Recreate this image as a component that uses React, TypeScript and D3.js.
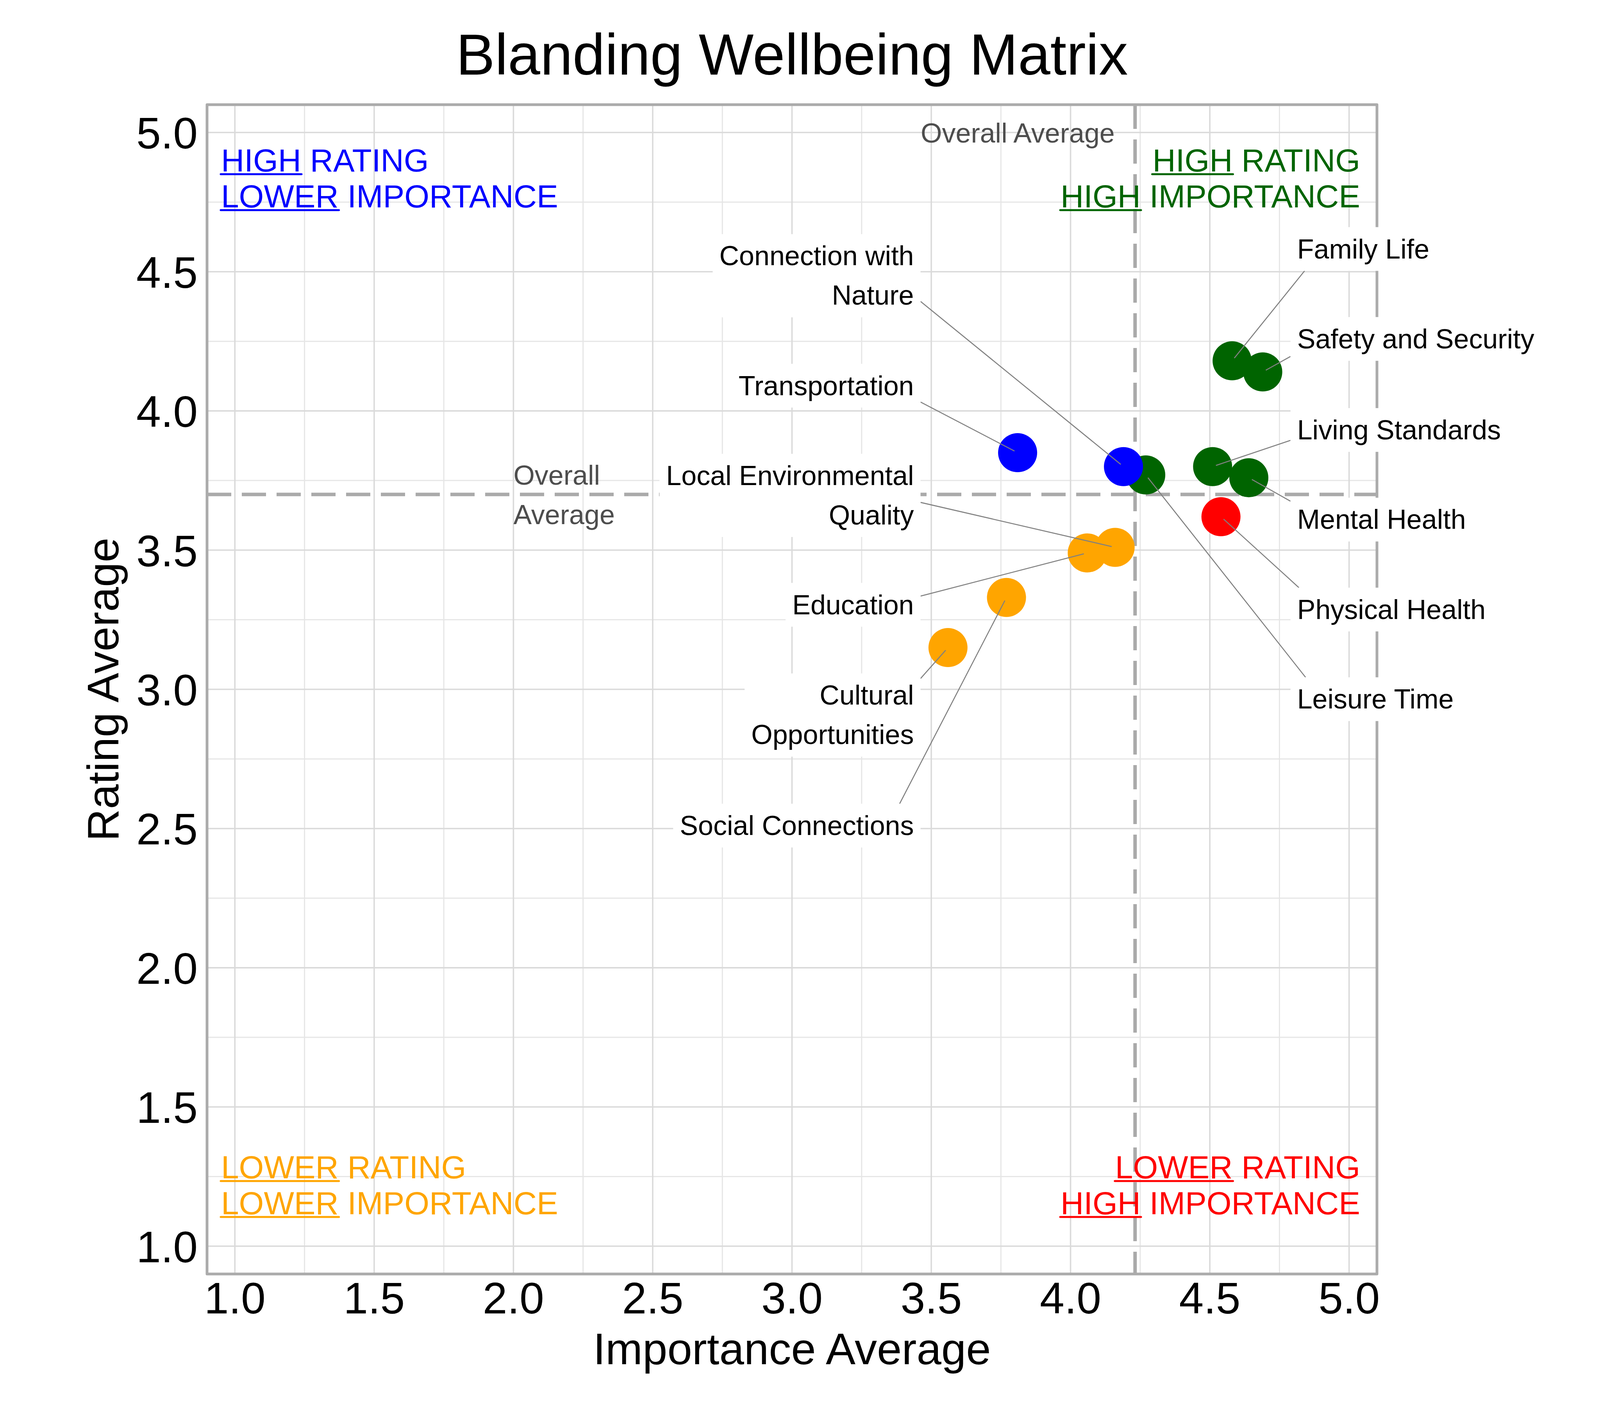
import { useEffect, useRef } from 'react';
import * as d3 from 'd3';

// chart data
const categories = [
  'Family Life',
  'Safety and Security',
  'Living Standards',
  'Mental Health',
  'Physical Health',
  'Leisure Time',
  'Connection with Nature',
  'Transportation',
  'Local Environmental Quality',
  'Education',
  'Cultural Opportunities',
  'Social Connections',
];
const importanceAvg = [4.58, 4.69, 4.51, 4.64, 4.54, 4.27, 4.19, 3.81, 4.16, 4.06, 3.56, 3.77];
const ratingAvg = [4.18, 4.14, 3.8, 3.76, 3.62, 3.77, 3.8, 3.85, 3.51, 3.49, 3.15, 3.33];

const tickValues = [1.0, 1.5, 2.0, 2.5, 3.0, 3.5, 4.0, 4.5, 5.0];

const chartTitle = 'Blanding Wellbeing Matrix';
const xTitle = 'Importance Average';
const yTitle = 'Rating Average';
const avgText = 'Overall Average';

// quadrant captions: [underlined word, rest]
const quadHighLow = [['HIGH', ' RATING'], ['LOWER', ' IMPORTANCE']];
const quadHighHigh = [['HIGH', ' RATING'], ['HIGH', ' IMPORTANCE']];
const quadLowLow = [['LOWER', ' RATING'], ['LOWER', ' IMPORTANCE']];
const quadLowHigh = [['LOWER', ' RATING'], ['HIGH', ' IMPORTANCE']];

// repelled label placement (data units), layout only
const labelSide: Record<string, 'left' | 'right'> = {
  'Family Life': 'right',
  'Safety and Security': 'right',
  'Living Standards': 'right',
  'Mental Health': 'right',
  'Physical Health': 'right',
  'Leisure Time': 'right',
  'Connection with Nature': 'left',
  Transportation: 'left',
  'Local Environmental Quality': 'left',
  Education: 'left',
  'Cultural Opportunities': 'left',
  'Social Connections': 'left',
};
const labelRowY: Record<string, number> = {
  'Family Life': 4.583,
  'Safety and Security': 4.26,
  'Living Standards': 3.933,
  'Mental Health': 3.611,
  'Physical Health': 3.288,
  'Leisure Time': 2.966,
  'Connection with Nature': 4.487,
  Transportation: 4.092,
  'Local Environmental Quality': 3.698,
  Education: 3.305,
  'Cultural Opportunities': 2.909,
  'Social Connections': 2.512,
};
const leftLabelX = 3.4376;
const rightLabelX = 4.8135;

function wrap(s: string, width: number) {
  const out: string[] = [];
  let cur = '';
  s.split(' ').forEach((w) => {
    if (cur && (cur + ' ' + w).length > width) {
      out.push(cur);
      cur = w;
    } else cur = cur ? cur + ' ' + w : w;
  });
  if (cur) out.push(cur);
  return out;
}

export default function App() {
  const ref = useRef<SVGSVGElement | null>(null);

  useEffect(() => {
    document.body.style.margin = '0';
    const W = 4200;
    const H = 3600;
    const font = '"Liberation Sans", Arial, Helvetica, sans-serif';
    const left = 530;
    const right = 3525;
    const top = 268;
    const bottom = 3262;

    const svg = d3.select(ref.current);
    svg.selectAll('*').remove();
    svg.append('rect').attr('width', W).attr('height', H).attr('fill', '#ffffff');

    const x = d3.scaleLinear().domain([0.9, 5.1]).range([left, right]);
    const y = d3.scaleLinear().domain([0.9, 5.1]).range([bottom, top]);

    const avgI = d3.mean(importanceAvg) as number;
    const avgR = d3.mean(ratingAvg) as number;

    // grid
    const minor = d3.range(1.25, 5, 0.5);
    const grid = svg.append('g');
    grid
      .selectAll('line.vm')
      .data(minor)
      .join('line')
      .attr('x1', (d) => x(d))
      .attr('x2', (d) => x(d))
      .attr('y1', top)
      .attr('y2', bottom)
      .attr('stroke', '#e6e6e6')
      .attr('stroke-width', 3);
    grid
      .selectAll('line.hm')
      .data(minor)
      .join('line')
      .attr('y1', (d) => y(d))
      .attr('y2', (d) => y(d))
      .attr('x1', left)
      .attr('x2', right)
      .attr('stroke', '#e6e6e6')
      .attr('stroke-width', 3);
    grid
      .selectAll('line.vM')
      .data(tickValues)
      .join('line')
      .attr('x1', (d) => x(d))
      .attr('x2', (d) => x(d))
      .attr('y1', top)
      .attr('y2', bottom)
      .attr('stroke', '#dadada')
      .attr('stroke-width', 3.6);
    grid
      .selectAll('line.hM')
      .data(tickValues)
      .join('line')
      .attr('y1', (d) => y(d))
      .attr('y2', (d) => y(d))
      .attr('x1', left)
      .attr('x2', right)
      .attr('stroke', '#dadada')
      .attr('stroke-width', 3.6);

    // average lines
    svg
      .append('line')
      .attr('x1', x(avgI))
      .attr('x2', x(avgI))
      .attr('y1', top)
      .attr('y2', bottom)
      .attr('stroke', '#aaaaaa')
      .attr('stroke-width', 9)
      .attr('stroke-dasharray', '62,27');
    svg
      .append('line')
      .attr('x1', left)
      .attr('x2', right)
      .attr('y1', y(avgR))
      .attr('y2', y(avgR))
      .attr('stroke', '#aaaaaa')
      .attr('stroke-width', 9)
      .attr('stroke-dasharray', '62,27');

    // panel border
    svg
      .append('rect')
      .attr('x', left)
      .attr('y', top)
      .attr('width', right - left)
      .attr('height', bottom - top)
      .attr('fill', 'none')
      .attr('stroke', '#ababab')
      .attr('stroke-width', 7)
      .attr('stroke-linejoin', 'round');

    // axis ticks
    svg
      .append('g')
      .selectAll('text')
      .data(tickValues)
      .join('text')
      .attr('x', (d) => x(d))
      .attr('y', 3363)
      .attr('text-anchor', 'middle')
      .style('font-family', font)
      .style('font-size', '113px')
      .attr('fill', '#000')
      .text((d) => d3.format('.1f')(d));
    svg
      .append('g')
      .selectAll('text')
      .data(tickValues)
      .join('text')
      .attr('x', 506)
      .attr('y', (d) => y(d) + 41)
      .attr('text-anchor', 'end')
      .style('font-family', font)
      .style('font-size', '113px')
      .attr('fill', '#000')
      .text((d) => d3.format('.1f')(d));

    // titles
    svg
      .append('text')
      .attr('x', (left + right) / 2)
      .attr('y', 191)
      .attr('text-anchor', 'middle')
      .style('font-family', font)
      .style('font-size', '149px')
      .text(chartTitle);
    svg
      .append('text')
      .attr('x', (left + right) / 2)
      .attr('y', 3493)
      .attr('text-anchor', 'middle')
      .style('font-family', font)
      .style('font-size', '114px')
      .text(xTitle);
    svg
      .append('text')
      .attr('transform', `translate(303,${(top + bottom) / 2}) rotate(-90)`)
      .attr('text-anchor', 'middle')
      .style('font-family', font)
      .style('font-size', '114px')
      .text(yTitle);

    // overall average notes
    svg
      .append('text')
      .attr('x', x(avgI) - 52)
      .attr('y', y(5.0) + 26)
      .attr('text-anchor', 'end')
      .style('font-family', font)
      .style('font-size', '70px')
      .attr('fill', '#4d4d4d')
      .text(avgText);
    const avgLeft = svg
      .append('text')
      .attr('x', x(2.0))
      .attr('y', y(avgR) - 25)
      .style('font-family', font)
      .style('font-size', '70px')
      .attr('fill', '#4d4d4d');
    avgText.split(' ').forEach((w, i) => {
      avgLeft
        .append('tspan')
        .attr('x', x(2.0))
        .attr('dy', i === 0 ? 0 : 101)
        .text(w);
    });

    // quadrant captions
    const quads = [
      { lines: quadHighLow, color: '#0000ff', anchor: 'start', ax: left + 36, b: top + 171 },
      { lines: quadHighHigh, color: '#006400', anchor: 'end', ax: right - 43, b: top + 171 },
      { lines: quadLowLow, color: '#ffa500', anchor: 'start', ax: left + 36, b: bottom - 245 },
      { lines: quadLowHigh, color: '#ff0000', anchor: 'end', ax: right - 43, b: bottom - 245 },
    ];
    quads.forEach((q) => {
      q.lines.forEach((parts, i) => {
        const by = q.b + i * 92;
        const t = svg
          .append('text')
          .attr('x', q.ax)
          .attr('y', by)
          .attr('text-anchor', q.anchor)
          .style('font-family', font)
          .style('font-size', '82px')
          .attr('fill', q.color);
        const first = t.append('tspan').text(parts[0]);
        t.append('tspan').text(parts[1]);
        const total = (t.node() as SVGTextElement).getComputedTextLength();
        const wlen = (first.node() as SVGTSpanElement).getComputedTextLength();
        const x0 = q.anchor === 'start' ? q.ax : q.ax - total;
        svg
          .append('line')
          .attr('x1', x0 - 1)
          .attr('x2', x0 + wlen + 1)
          .attr('y1', by + 7)
          .attr('y2', by + 7)
          .attr('stroke', q.color)
          .attr('stroke-width', 5)
          .attr('stroke-linecap', 'round');
      });
    });

    // points
    const pts = categories.map((c, i) => ({
      name: c,
      imp: importanceAvg[i],
      rat: ratingAvg[i],
    }));
    const colorOf = (d: { imp: number; rat: number }) => {
      if (d.rat >= avgR) return d.imp >= avgI ? '#006400' : '#0000ff';
      return d.imp >= avgI ? '#ff0000' : '#ffa500';
    };
    svg
      .append('g')
      .selectAll('circle')
      .data(pts)
      .join('circle')
      .attr('cx', (d) => x(d.imp))
      .attr('cy', (d) => y(d.rat))
      .attr('r', 50)
      .attr('fill', colorOf);

    // labels with segments
    const segG = svg.append('g');
    const labG = svg.append('g');
    const pad = 17;
    pts.forEach((d) => {
      const side = labelSide[d.name];
      const lines = wrap(d.name, 20);
      const cy = y(labelRowY[d.name]);
      const tx = side === 'left' ? x(leftLabelX) : x(rightLabelX);
      const g = labG.append('g');
      const rect = g.append('rect').attr('fill', '#ffffff');
      const t = g
        .append('text')
        .attr('text-anchor', side === 'left' ? 'end' : 'start')
        .style('font-family', font)
        .style('font-size', '70px')
        .attr('fill', '#000');
      lines.forEach((ln, i) => {
        t.append('tspan')
          .attr('x', tx)
          .attr('y', cy + 25 + (i - (lines.length - 1) / 2) * 101)
          .text(ln);
      });
      const bb = (t.node() as SVGTextElement).getBBox();
      const bx1 = bb.x - pad;
      const bx2 = bb.x + bb.width + pad;
      const by1 = bb.y - pad;
      const by2 = bb.y + bb.height + pad;
      rect
        .attr('x', bx1)
        .attr('y', by1)
        .attr('width', bx2 - bx1)
        .attr('height', by2 - by1);

      // segment: from point toward an anchor inside the label, clipped by the box
      const px = x(d.imp);
      const py = y(d.rat);
      const ax = side === 'left' ? tx - 65 : tx + 65;
      const ay = cy;
      const dx = ax - px;
      const dy = ay - py;
      const tX = dx !== 0 ? Math.min((bx1 - px) / dx, (bx2 - px) / dx) : -Infinity;
      const tY = dy !== 0 ? Math.min((by1 - py) / dy, (by2 - py) / dy) : -Infinity;
      const tIn = Math.max(tX, tY);
      const len = Math.hypot(dx, dy);
      segG
        .append('line')
        .attr('x1', px + (dx * 9) / len)
        .attr('y1', py + (dy * 9) / len)
        .attr('x2', px + dx * tIn)
        .attr('y2', py + dy * tIn)
        .attr('stroke', '#808080')
        .attr('stroke-width', 2.6);
    });
  }, []);

  return <svg ref={ref} width={4200} height={3600} style={{ display: 'block' }} />;
}
